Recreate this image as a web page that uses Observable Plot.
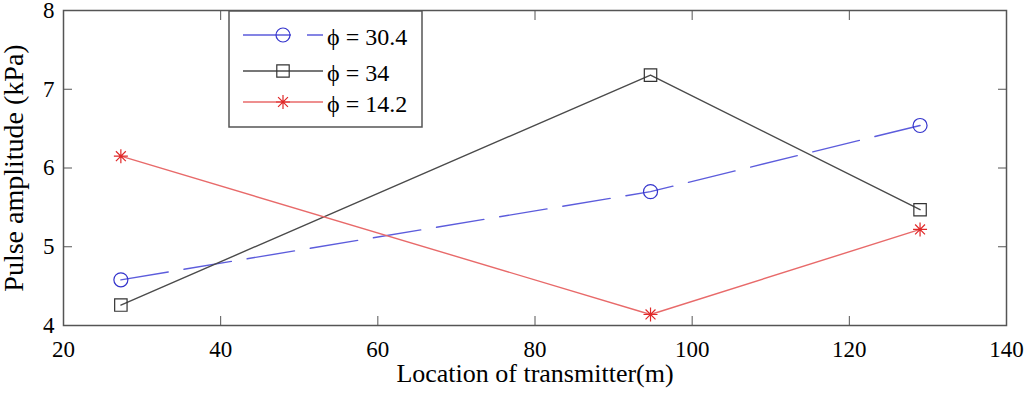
<!DOCTYPE html>
<html><head><meta charset="utf-8">
<script src="https://cdn.jsdelivr.net/npm/d3@7"></script>
<script src="https://cdn.jsdelivr.net/npm/@observablehq/plot@0.6"></script>
<style>body{margin:0;background:#fff} svg{display:block}</style>
</head><body><div id="chart"></div>
<script>
// ---- data ----
const locations = [27.3, 94.7, 129];
const phi304 = [4.58, 5.70, 6.54];
const phi34 = [4.26, 7.18, 5.47];
const phi142 = [6.15, 4.14, 5.22];
const seriesNames = ["ϕ = 30.4", "ϕ = 34", "ϕ = 14.2"];
const xTicks = [20, 40, 60, 80, 100, 120, 140];
const yTicks = [4, 5, 6, 7, 8];
const xLabel = "Location of transmitter(m)";
const yLabel = "Pulse amplitude (kPa)";

// ---- styles ----
const lineColors = ["#5c5cdc", "#4a4a4a", "#e86a6a"];
const markColors = ["#3434cc", "#333333", "#e02828"];
const dashes = ["48,16", null, null];
const FONT = "Liberation Serif, Times New Roman, serif";

const star = {
  draw(ctx, size) {
    const r = Math.sqrt(size / Math.PI), d = r * Math.SQRT1_2;
    ctx.moveTo(-r, 0); ctx.lineTo(r, 0);
    ctx.moveTo(0, -r); ctx.lineTo(0, r);
    ctx.moveTo(-d, -d); ctx.lineTo(d, d);
    ctx.moveTo(-d, d); ctx.lineTo(d, -d);
  }
};
const symbols = ["circle", "square", star];

const seriesValues = [phi304, phi34, phi142];
const series = seriesValues.map((vals, s) => locations.map((x, i) => ({x, y: vals[i], s})));

const fmt = d => String(d);
const marks = [
  Plot.axisX({ticks: xTicks, anchor: "bottom", tickSize: -9, tickPadding: 24, tickFormat: fmt, label: null, stroke: "#555"}),
  Plot.axisX({ticks: xTicks, anchor: "top", tickSize: -9, tickFormat: () => "", label: null, stroke: "#555"}),
  Plot.axisY({ticks: yTicks, anchor: "left", tickSize: -9, tickPadding: 18, tickFormat: fmt, label: null, stroke: "#555"}),
  Plot.axisY({ticks: yTicks, anchor: "right", tickSize: -9, tickFormat: () => "", label: null, stroke: "#555"}),
  Plot.frame({stroke: "#555", strokeWidth: 1.5})
];
series.forEach((data, s) => {
  marks.push(Plot.line(data, {x: "x", y: "y", stroke: lineColors[s], strokeWidth: 1.4, strokeDasharray: dashes[s]}));
  marks.push(Plot.dot(data, {x: "x", y: "y", symbol: symbols[s], r: 7, stroke: markColors[s], fill: "none", strokeWidth: 1.2}));
});
marks.push(Plot.text([xLabel], {frameAnchor: "bottom", dy: 48, lineAnchor: "middle", textAnchor: "middle", fontSize: 26, fill: "#000"}));
marks.push(Plot.text([yLabel], {frameAnchor: "left", dx: -49, rotate: -90, lineAnchor: "middle", textAnchor: "middle", fontSize: 28, fill: "#000"}));

const chart = Plot.plot({
  width: 1024, height: 396,
  marginLeft: 63, marginRight: 18, marginTop: 10, marginBottom: 71,
  x: {domain: [20, 140]},
  y: {domain: [4, 8]},
  style: {fontSize: "23px", color: "#000", background: "#fff"},
  marks
});
document.getElementById("chart").append(chart);

const svg = d3.select(chart);
svg.selectAll("text").style("font-family", FONT);
svg.selectAll('g[aria-label$="tick label"]').style("font-size", "23px");

// ---- legend ----
const lg = svg.append("g").style("font-family", FONT).style("font-size", "24px").attr("text-anchor", "start");
lg.append("rect").attr("x", 229).attr("y", 11).attr("width", 193).attr("height", 116)
  .attr("fill", "#fff").attr("stroke", "#555").attr("stroke-width", 1.5);
const rowY = [35, 71, 102];
seriesNames.forEach((name, s) => {
  const y = rowY[s];
  lg.append("line").attr("x1", 243).attr("x2", 323).attr("y1", y).attr("y2", y)
    .attr("stroke", lineColors[s]).attr("stroke-width", 1.4).attr("stroke-dasharray", dashes[s]);
  const sym = typeof symbols[s] === "string" ? (symbols[s] === "circle" ? d3.symbolCircle : d3.symbolSquare) : symbols[s];
  lg.append("path").attr("d", d3.symbol(sym, 49 * Math.PI)()).attr("transform", `translate(283,${y})`)
    .attr("fill", "none").attr("stroke", markColors[s]).attr("stroke-width", 1.2);
  lg.append("text").attr("x", 327).attr("y", y + 10).attr("fill", "#000").attr("text-anchor", "start").text(name);
});
</script></body></html>
